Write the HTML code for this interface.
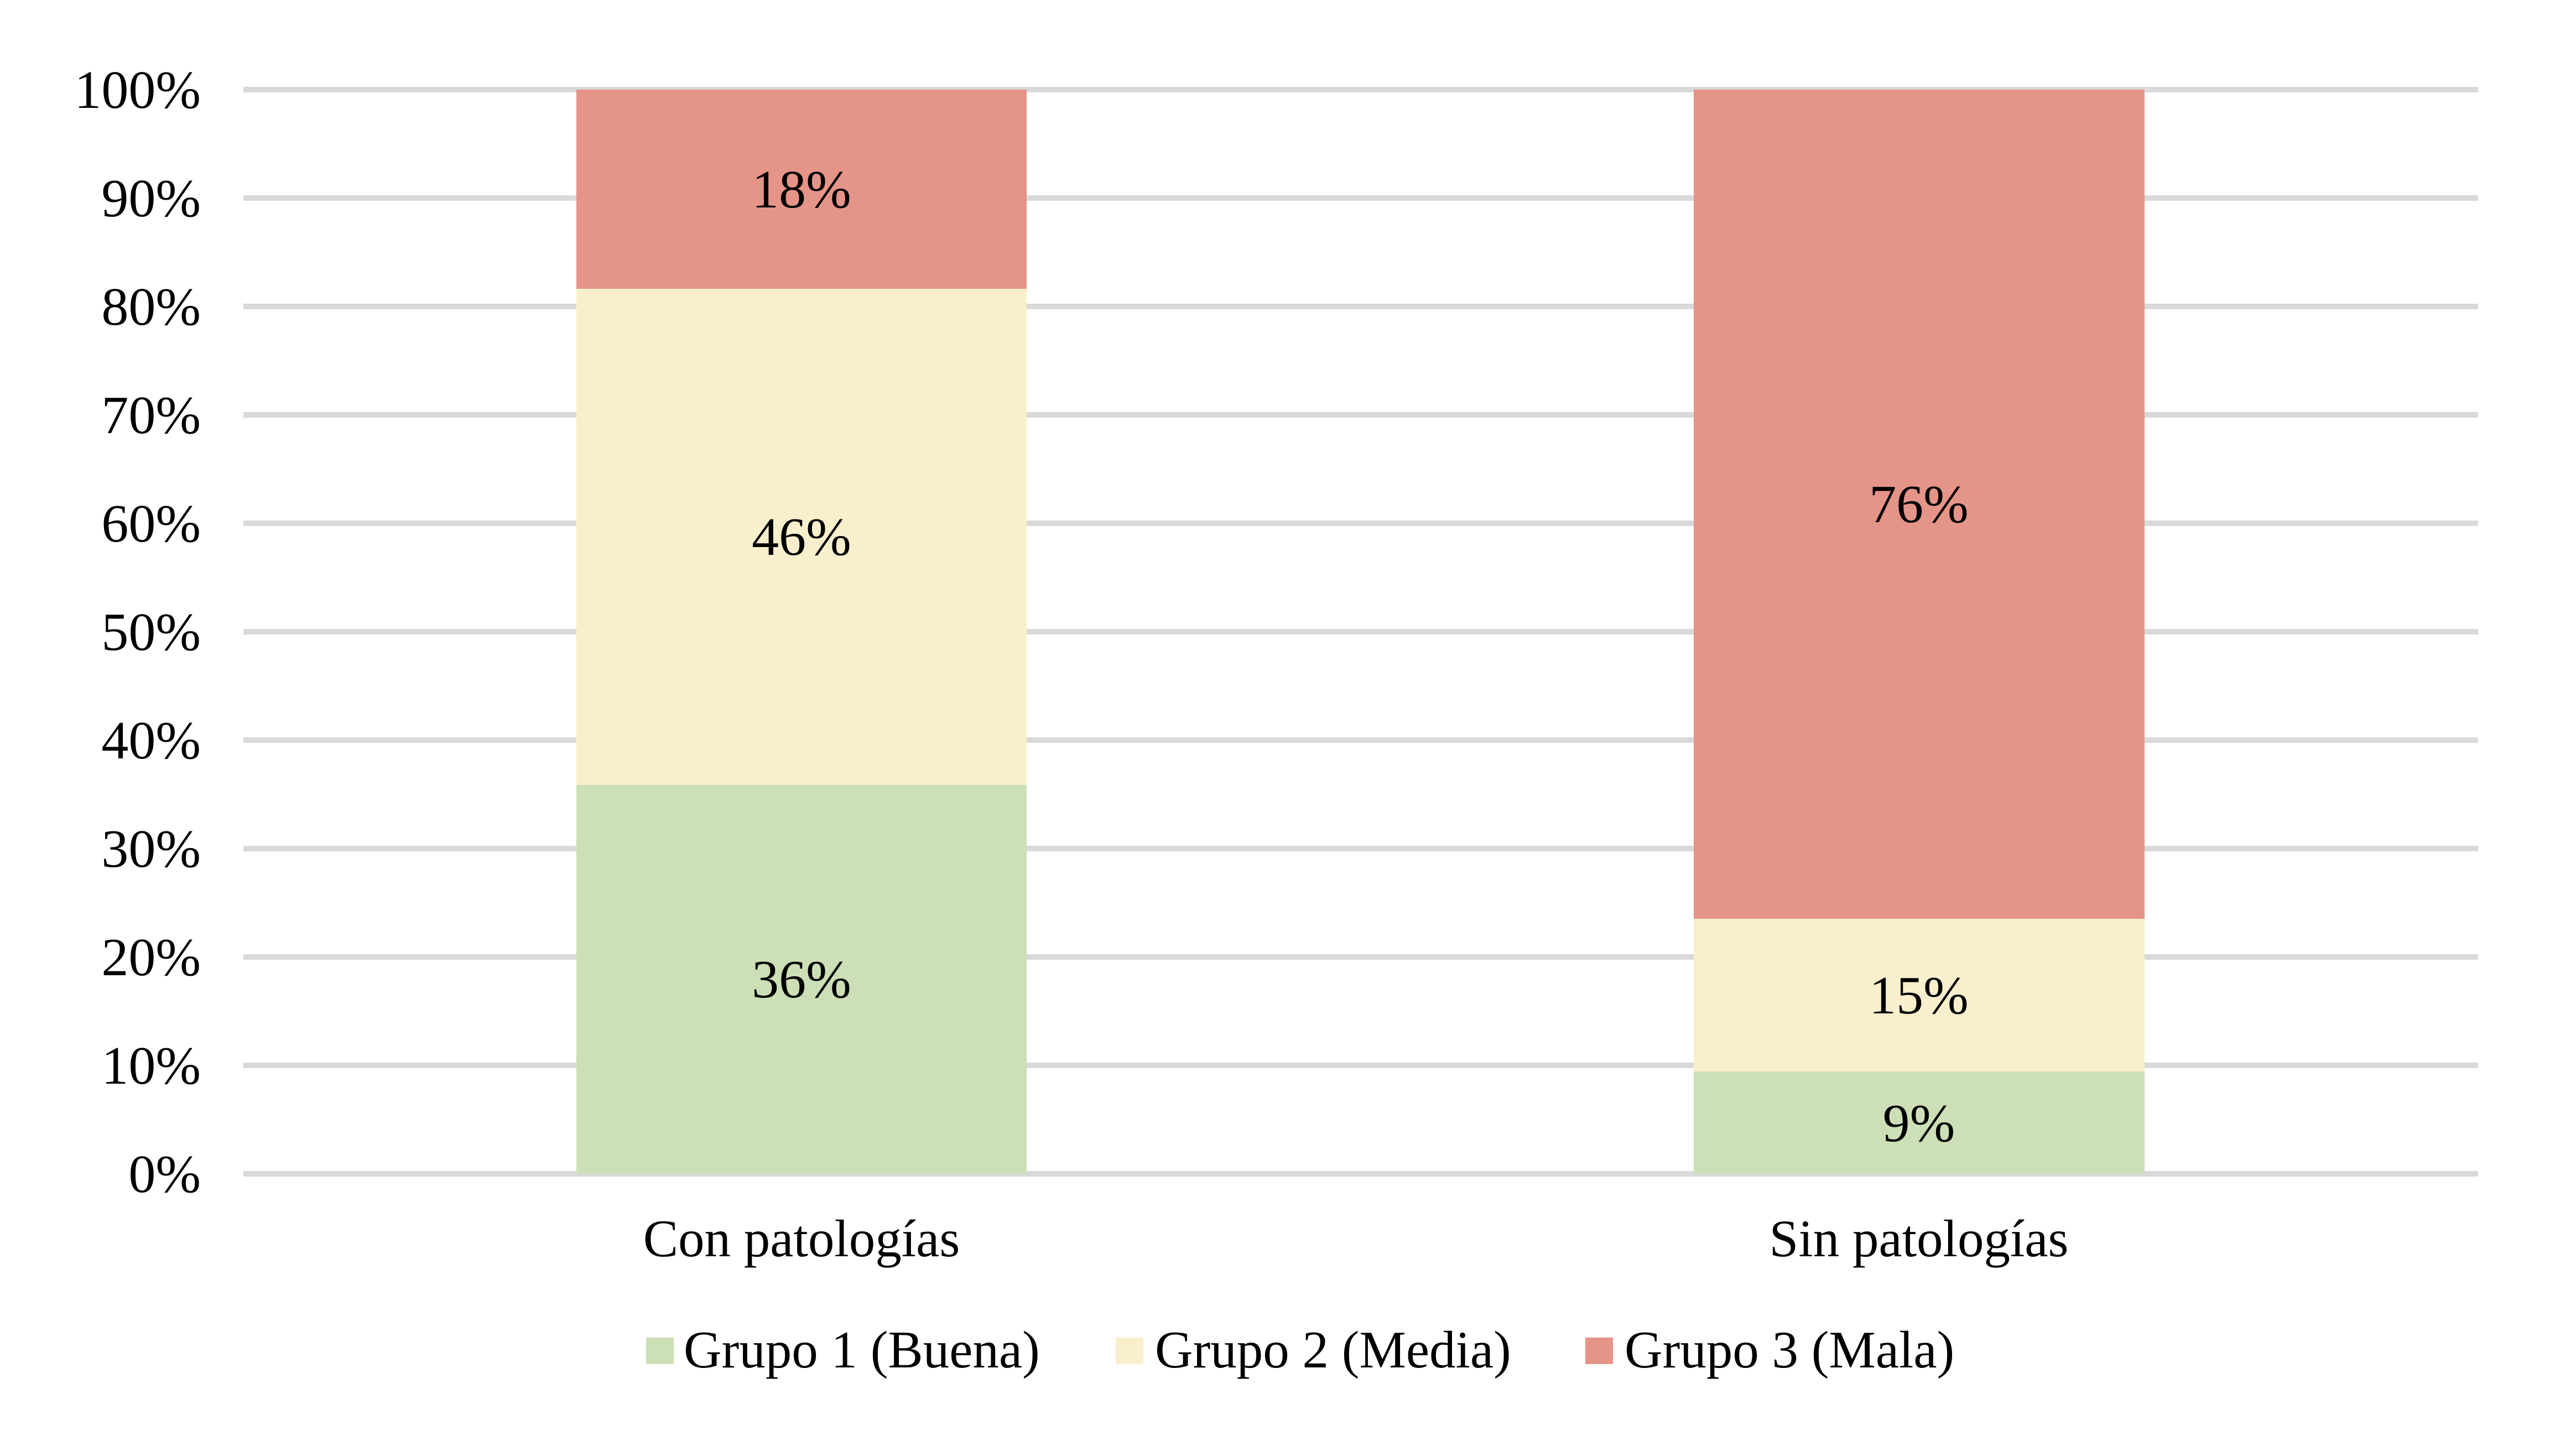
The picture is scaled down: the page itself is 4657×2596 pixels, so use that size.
<!DOCTYPE html>
<html><head><meta charset="utf-8"><style>
body{margin:0;background:#fff}
svg text{font-family:"Liberation Serif",serif;font-size:98px;fill:#000}
svg text.s{font-size:95px}
</style></head><body>
<svg width="4657" height="2591" xmlns="http://www.w3.org/2000/svg">
<rect width="4657" height="2591" fill="#fff"/>
<g fill="#d9d9d9">
<rect x="440" y="157" width="4040" height="10"/>
<rect x="440" y="353" width="4040" height="10"/>
<rect x="440" y="549" width="4040" height="10"/>
<rect x="440" y="745" width="4040" height="10"/>
<rect x="440" y="941" width="4040" height="10"/>
<rect x="440" y="1137" width="4040" height="10"/>
<rect x="440" y="1333" width="4040" height="10"/>
<rect x="440" y="1529" width="4040" height="10"/>
<rect x="440" y="1725" width="4040" height="10"/>
<rect x="440" y="1921" width="4040" height="10"/>
<rect x="440" y="2117" width="4040" height="10"/>
</g>
<rect x="1042" y="162" width="814" height="360" fill="#e59488"/>
<rect x="1042" y="522" width="814" height="897" fill="#faefcd"/>
<rect x="1042" y="1419" width="814" height="703" fill="#cddfb6"/>
<rect x="3062" y="162" width="815" height="1499" fill="#e59488"/>
<rect x="3062" y="1661" width="815" height="276" fill="#faefcd"/>
<rect x="3062" y="1937" width="815" height="185" fill="#cddfb6"/>
<g text-anchor="end">
<text x="363" y="195">100%</text>
<text x="363" y="391">90%</text>
<text x="363" y="587">80%</text>
<text x="363" y="783">70%</text>
<text x="363" y="979">60%</text>
<text x="363" y="1175">50%</text>
<text x="363" y="1371">40%</text>
<text x="363" y="1567">30%</text>
<text x="363" y="1763">20%</text>
<text x="363" y="1959">10%</text>
<text x="363" y="2155">0%</text>
</g>
<g text-anchor="middle">
<text x="1449" y="375">18%</text>
<text x="1449" y="1003">46%</text>
<text x="1449" y="1803">36%</text>
<text x="3469" y="944">76%</text>
<text x="3469" y="1832">15%</text>
<text x="3469" y="2063">9%</text>
<text class="s" x="1449" y="2271">Con patologías</text>
<text class="s" x="3469" y="2271">Sin patologías</text>
</g>
<rect x="1168" y="2418" width="50" height="48" fill="#cddfb6"/>
<text class="s" x="1236" y="2472">Grupo 1 (Buena)</text>
<rect x="2017" y="2418" width="50" height="48" fill="#faefcd"/>
<text class="s" x="2088" y="2472">Grupo 2 (Media)</text>
<rect x="2866" y="2418" width="50" height="48" fill="#e59488"/>
<text class="s" x="2937" y="2472">Grupo 3 (Mala)</text>
</svg>
</body></html>
